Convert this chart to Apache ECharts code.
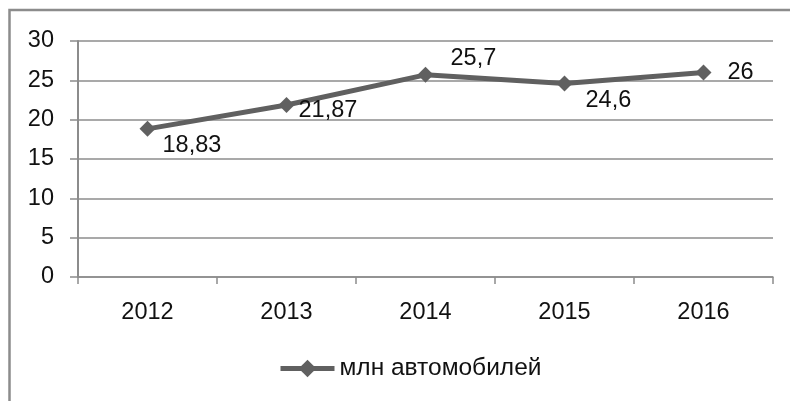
<!DOCTYPE html>
<html><head><meta charset="utf-8">
<script src="https://cdn.jsdelivr.net/npm/echarts@6/dist/echarts.min.js"></script>
<style>html,body{margin:0;padding:0;background:#fff}#c{width:790px;height:401px}</style>
</head><body><div id="c"></div>
<script>
const categories = ['2012', '2013', '2014', '2015', '2016'];
const values = [18.83, 21.87, 25.7, 24.6, 26];
const seriesName = 'млн автомобилей';
const yTicks = { min: 0, max: 30, interval: 5 };

const labelOffsets = [[2, 17], [-1, 6], [12, -16], [8, 17], [11, 0]];
const FONT = 'Liberation Sans';
const chart = echarts.init(document.getElementById('c'), null, { renderer: 'canvas' });
chart.setOption({
  animation: false,
  backgroundColor: '#fff',
  graphic: [{
    type: 'rect', shape: { x: 9.5, y: 10, width: 800, height: 400 },
    style: { fill: 'none', stroke: '#8c8c8c', lineWidth: 2.5 }, silent: true
  }],
  grid: { left: 78, right: 17, top: 41, bottom: 124, containLabel: false },
  xAxis: {
    type: 'category', data: categories, boundaryGap: true,
    axisLine: { lineStyle: { color: '#8c8c8c', width: 1.5 } },
    axisTick: { show: true, length: 7, alignWithLabel: false, lineStyle: { color: '#8c8c8c', width: 1.5 } },
    axisLabel: { margin: 24, fontFamily: FONT, fontSize: 23.5, color: '#111' }
  },
  yAxis: {
    type: 'value', min: yTicks.min, max: yTicks.max, interval: yTicks.interval,
    axisLine: { show: true, lineStyle: { color: '#8c8c8c', width: 2 } },
    axisTick: { show: true, length: 8, lineStyle: { color: '#8c8c8c', width: 1.5 } },
    splitLine: { lineStyle: { color: '#8c8c8c', width: 1.5 } },
    axisLabel: { margin: 24, fontFamily: FONT, fontSize: 23.5, color: '#111' }
  },
  legend: {
    data: [seriesName], left: 273, top: 351,
    itemWidth: 54, itemHeight: 22, itemGap: 10,
    lineStyle: { width: 5 },
    textStyle: { fontFamily: FONT, fontSize: 24.5, color: '#111' }
  },
  series: [{
    name: seriesName, type: 'line',
    data: values.map((v, i) => ({
      value: v,
      label: { offset: labelOffsets[i] }
    })),
    symbol: 'diamond', symbolSize: 16,
    lineStyle: { color: '#606060', width: 5 },
    itemStyle: { color: '#606060' },
    label: {
      show: true, position: 'right', fontFamily: FONT, fontSize: 23.5, color: '#111',
      formatter: p => String(p.value).replace('.', ',')
    }
  }]
});
</script></body></html>
